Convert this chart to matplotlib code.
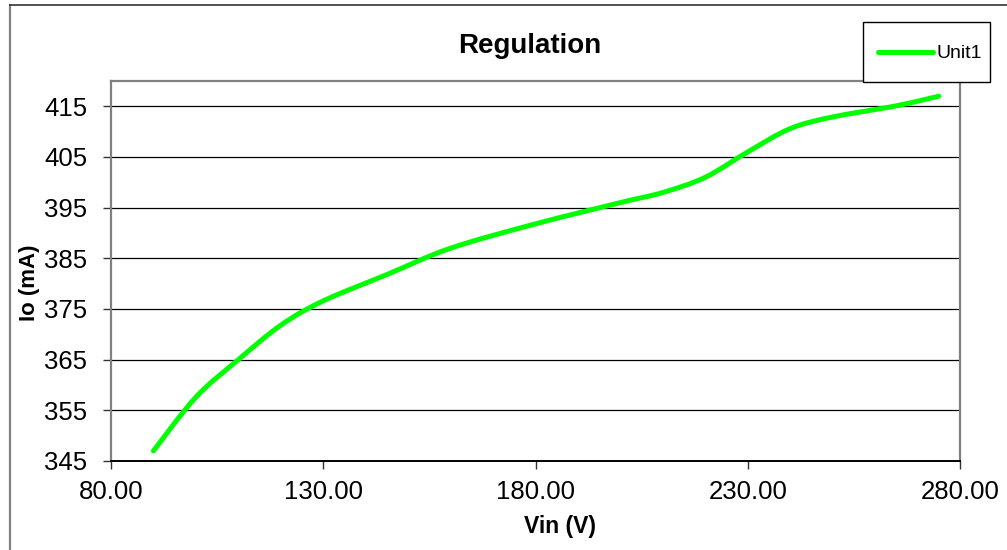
import numpy as np
import matplotlib.pyplot as plt
from matplotlib.path import Path
from matplotlib.patches import PathPatch, Rectangle
from matplotlib.lines import Line2D

plt.rcParams['font.family'] = ['Liberation Sans', 'DejaVu Sans']

# measured output current vs input voltage
vin = [90, 100, 110, 120, 130, 145, 160, 180, 200, 210, 220, 230, 240, 250, 265, 275]
io = [347.0, 357.6, 365.0, 371.8, 376.6, 381.8, 387.0, 391.8, 396.0, 398.0,
      401.0, 406.0, 410.6, 412.9, 415.1, 417.0]

xticks = [80, 130, 180, 230, 280]
yticks = [345, 355, 365, 375, 385, 395, 405, 415]
green = '#00ff00'
W, H = 1007, 550


def smooth_path(x, y):
    # Bezier segments with 1/6 neighbour tangents (spreadsheet style smoothing)
    p = np.column_stack([x, y]).astype(float)
    n = len(p)
    verts = [p[0]]
    codes = [Path.MOVETO]
    for i in range(n - 1):
        p0 = p[i - 1] if i > 0 else p[i]
        p3 = p[i + 2] if i + 2 < n else p[i + 1]
        c1 = p[i] + (p[i + 1] - p0) / 6.0
        c2 = p[i + 1] - (p3 - p[i]) / 6.0
        verts += [c1, c2, p[i + 1]]
        codes += [Path.CURVE4] * 3
    return Path(verts, codes)


def fx(px):
    return px / W


def fy(py):
    return 1 - py / H


fig = plt.figure(figsize=(W / 100, H / 100), dpi=100)
ax = fig.add_axes([fx(111), fy(461), 849 / W, 380 / H])

curve = PathPatch(smooth_path(vin, io), fill=False, edgecolor=green, lw=3.6,
                  capstyle='round', joinstyle='round', zorder=3)
ax.add_patch(curve)

ax.set_xlim(80, 280)
ax.set_ylim(345, 420)
ax.set_xticks(xticks)
ax.set_xticklabels(['%.2f' % v for v in xticks])
ax.set_yticks(yticks)
ax.tick_params(axis='both', direction='out', length=6, width=1, colors='#333333',
               labelsize=18.5, labelcolor='black')
ax.tick_params(axis='y', pad=11)
ax.tick_params(axis='x', pad=8)
ax.yaxis.grid(True, color='black', lw=0.9)
ax.set_axisbelow(True)

for side in ['top', 'right', 'left']:
    ax.spines[side].set_color('#808080')
    ax.spines[side].set_linewidth(1.6)
ax.spines['bottom'].set_color('black')
ax.spines['bottom'].set_linewidth(1.4)

fig.text(fx(530), fy(53), 'Regulation', ha='center', va='baseline',
         fontsize=20, fontweight='bold')
fig.text(fx(560), fy(527), 'Vin (V)', ha='center', va='center',
         fontsize=16.5, fontweight='bold')
fig.text(fx(30), fy(283), 'Io (mA)', ha='center', va='center',
         rotation=90, fontsize=16, fontweight='bold')

# legend box
fig.add_artist(Rectangle((fx(863), fy(82)), 127 / W, 60 / H, facecolor='white',
                         edgecolor='black', lw=1.0, transform=fig.transFigure, zorder=5))
fig.add_artist(Line2D([fx(878), fx(933)], [fy(52), fy(52)], color=green, lw=3.6,
                      solid_capstyle='round', transform=fig.transFigure, zorder=6))
fig.text(fx(936), fy(57.5), 'Unit1', ha='left', va='baseline', fontsize=14, zorder=6)

# outer chart frame
fig.add_artist(Line2D([fx(10), fx(10)], [0, fy(5)], color='#808080',
                      lw=1.6, transform=fig.transFigure))
fig.add_artist(Line2D([fx(10), 1], [fy(5), fy(5)], color='#333333',
                      lw=1.2, transform=fig.transFigure))

fig.savefig('out.png', dpi=100)
